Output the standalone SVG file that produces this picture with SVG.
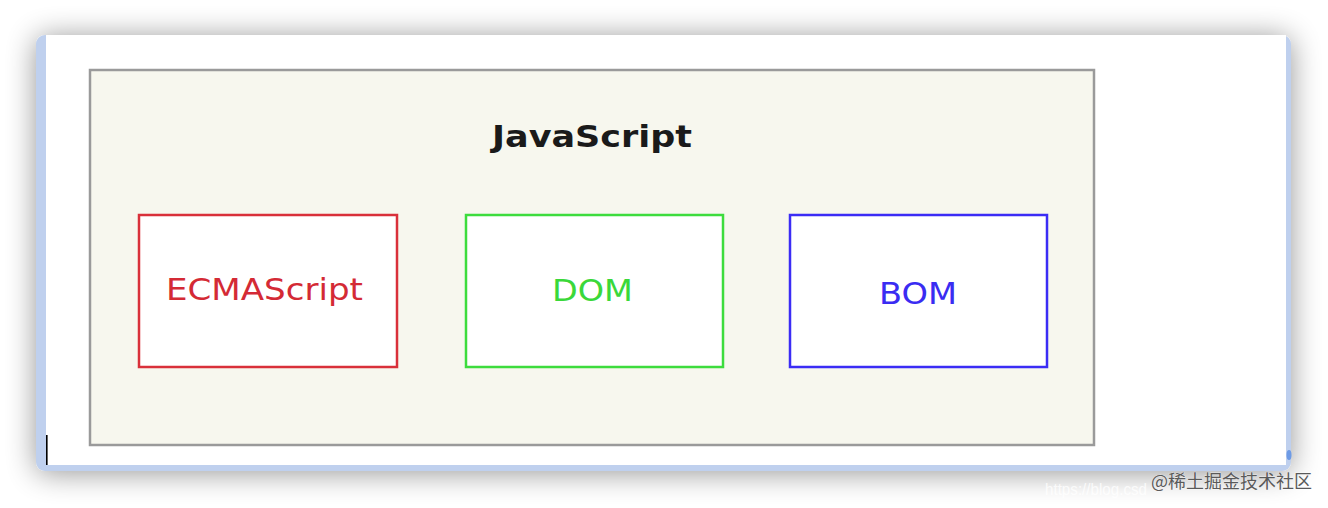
<svg xmlns="http://www.w3.org/2000/svg" width="1328" height="508" viewBox="0 0 1328 508">
<defs>
<filter id="sh" x="-10%" y="-30%" width="120%" height="160%">
<feGaussianBlur in="SourceAlpha" stdDeviation="15"/>
<feOffset dy="2" result="b"/>
<feComponentTransfer><feFuncA type="linear" slope="0.42"/></feComponentTransfer>
<feMerge><feMergeNode/><feMergeNode in="SourceGraphic"/></feMerge>
</filter>
<style>
.lbl{font-family:"DejaVu Sans","Liberation Sans",sans-serif;font-size:30px;text-anchor:start}
.box{fill:#ffffff;stroke-width:2.5}
</style>
</defs>
<rect width="1328" height="508" fill="#ffffff"/>
<g id="frame">
<rect x="36" y="35" width="1255" height="436" rx="9" fill="#bfd0ee" filter="url(#sh)"/>
<rect x="46" y="35" width="1240" height="430" fill="#ffffff"/>
<ellipse cx="1289" cy="455" rx="2.5" ry="5" fill="#6e9be6"/>
<rect x="46" y="435" width="1.6" height="30" fill="#000000"/>
</g>
<g id="javascript">
<rect x="90" y="70" width="1004" height="375" fill="#f7f7ee" stroke="#9a9a9a" stroke-width="2.5"/>
<text x="492" y="147" textLength="200" lengthAdjust="spacingAndGlyphs" style="font-family:'DejaVu Sans','Liberation Sans',sans-serif;font-size:30px;font-weight:bold;fill:#1a1a1a">JavaScript</text>
</g>
<g id="ecmascript">
<rect class="box" x="139" y="215" width="258" height="152" stroke="#d9303a"/>
<text class="lbl" x="166" y="300" textLength="197" lengthAdjust="spacingAndGlyphs" fill="#d42a35">ECMAScript</text>
</g>
<g id="dom">
<rect class="box" x="466" y="215" width="257" height="152" stroke="#3ddc3d"/>
<text class="lbl" x="552" y="301" textLength="81" lengthAdjust="spacingAndGlyphs" fill="#3ad83a">DOM</text>
</g>
<g id="bom">
<rect class="box" x="790" y="215" width="257" height="152" stroke="#3b2cf5"/>
<text class="lbl" x="879" y="304" textLength="78" lengthAdjust="spacingAndGlyphs" fill="#3a2cf2">BOM</text>
</g>
<g id="connectors"></g>
<g id="watermark">
<text x="1045" y="495" textLength="102" lengthAdjust="spacingAndGlyphs" style="font-family:'Liberation Sans',sans-serif;font-size:17px;fill:#ffffff;fill-opacity:0.8">https://blog.csd</text>
<text x="1151" y="488" style="font-family:'Noto Sans CJK SC','DejaVu Sans',sans-serif;font-size:18px;fill:#5a5a5a;stroke:#ffffff;stroke-width:0.4;paint-order:stroke">@稀土掘金技术社区</text>
</g>
</svg>
